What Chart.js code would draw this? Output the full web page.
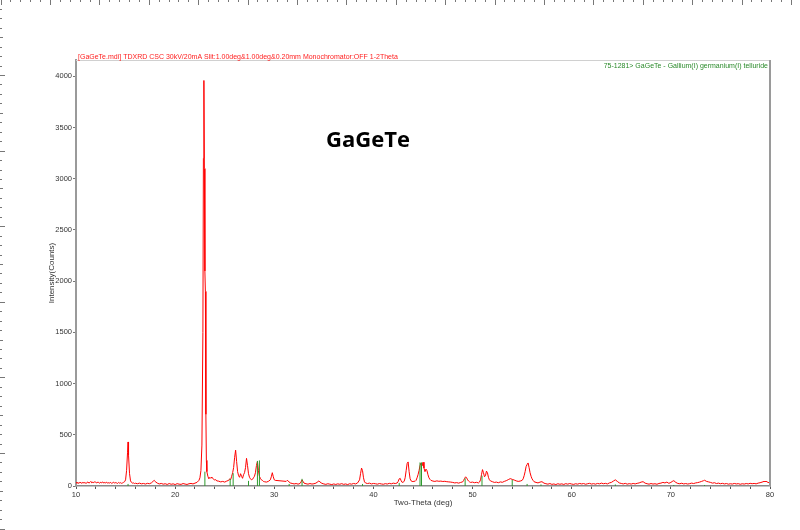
<!DOCTYPE html>
<html>
<head>
<meta charset="utf-8">
<title>GaGeTe XRD</title>
<script src="https://cdn.jsdelivr.net/npm/chart.js@4.4.1/dist/chart.umd.min.js"></script>
<style>
  html, body { margin: 0; padding: 0; background: #fff; }
  #wrap { width: 800px; height: 530px; }
</style>
</head>
<body>
<div id="wrap"><canvas id="xrd" width="800" height="530"></canvas></div>
<script>
// measured scan: [two-theta (deg), intensity (counts)]
const scan = [
  [10.0,35],[10.1,28],[10.2,33],[10.3,25],[10.4,38],[10.5,30],[10.6,27],[10.7,36],[10.8,29],[10.9,34],
  [11.0,26],[11.1,31],[11.2,40],[11.3,28],[11.4,35],[11.5,45],[11.6,30],[11.7,38],[11.8,33],[11.9,42],
  [12.0,36],[12.1,29],[12.2,39],[12.3,34],[12.4,27],[12.5,37],[12.6,31],[12.7,40],[12.8,28],[12.9,35],
  [13.0,30],[13.1,38],[13.2,26],[13.3,33],[13.4,29],[13.5,36],[13.6,24],[13.7,32],[13.8,38],[13.9,27],
  [14.0,34],[14.1,30],[14.2,25],[14.3,35],[14.4,28],[14.5,32],[14.6,26],[14.7,30],[14.8,36],[14.9,42],
  [15.0,60],[15.1,150],[15.2,330],[15.25,430],[15.3,300],[15.4,120],[15.5,50],[15.6,35],[15.7,28],[15.8,30],
  [15.9,24],[16.0,27],[16.2,22],[16.4,28],[16.6,21],[16.8,25],[17.0,19],[17.2,26],[17.4,22],[17.6,30],
  [17.8,48],[17.9,55],[18.0,42],[18.2,28],[18.4,20],[18.6,25],[18.8,18],[19.0,22],[19.2,15],[19.4,24],
  [19.6,17],[19.8,21],[20.0,14],[20.2,23],[20.4,18],[20.6,16],[20.8,24],[21.0,19],[21.2,15],[21.4,22],
  [21.6,25],[21.8,20],[22.0,28],[22.2,35],[22.4,55],[22.5,80],[22.6,150],[22.7,400],[22.8,1500],[22.85,3200],
  [22.9,3960],[22.95,3100],[23.0,2100],[23.05,1900],[23.1,700],[23.15,250],[23.2,140],
  [23.3,95],[23.4,70],[23.5,85],[23.6,75],[23.7,88],[23.8,72],[23.9,65],[24.0,58],[24.1,62],[24.2,50],
  [24.4,47],[24.6,40],[24.8,45],[25.0,38],[25.2,48],[25.4,55],[25.5,70],[25.6,62],[25.7,95],[25.8,130],
  [25.9,180],[26.0,280],[26.1,350],[26.2,240],[26.3,140],[26.4,100],[26.5,85],[26.6,120],[26.7,95],[26.8,75],
  [26.9,110],[27.0,130],[27.1,180],[27.2,270],[27.3,200],[27.4,120],[27.5,85],[27.6,70],[27.7,60],[27.8,65],
  [27.9,80],[28.0,95],[28.1,130],[28.2,200],[28.3,240],[28.4,150],[28.5,95],[28.6,75],[28.7,60],[28.8,55],
  [28.9,45],[29.0,42],[29.2,38],[29.4,45],[29.6,60],[29.7,90],[29.8,130],[29.9,90],[30.0,60],[30.1,55],
  [31.2,45],[31.3,55],[31.4,50],[31.5,38],[31.6,30],[31.8,25],[32.0,20],[32.2,24],[32.4,18],[32.6,25],
  [32.7,40],[32.8,60],[32.9,45],[33.0,28],[33.2,22],[33.4,18],[33.6,24],[33.8,19],[34.0,22],[34.2,28],
  [34.4,42],[34.5,50],[34.6,40],[34.8,26],[35.0,20],[35.2,16],[35.4,22],[35.6,18],[35.8,14],[36.0,20],
  [36.2,15],[36.4,21],[36.6,17],[36.8,23],[37.0,16],[37.2,20],[37.4,14],[37.6,22],[37.8,18],[38.0,25],
  [38.2,20],[38.4,30],[38.6,60],[38.7,120],[38.8,175],[38.9,150],[39.0,80],[39.1,40],[39.2,30],[39.4,24],
  [39.6,28],[39.8,20],[40.0,25],[40.2,22],[40.4,18],[40.6,24],[40.8,20],[41.0,17],[41.2,23],[41.4,19],
  [41.6,26],[41.8,21],[42.0,28],[42.2,24],[42.4,30],[42.5,45],[42.6,70],[42.7,75],[42.8,50],[42.9,35],
  [43.0,38],[43.1,45],[43.2,80],[43.3,150],[43.4,220],[43.5,235],[43.6,140],[43.7,70],[43.8,50],[43.9,45],
  [44.0,42],[44.1,48],[44.2,45],[44.3,55],[44.4,80],[44.5,110],[44.6,150],[44.7,200],[44.8,225],[44.9,195],
  [45.0,232],[45.1,175],[45.2,140],[45.3,165],[45.4,150],[45.5,110],[45.6,80],[45.7,65],[45.8,55],[46.0,48],
  [46.2,45],[46.4,50],[46.6,46],[46.8,48],[47.0,44],[47.2,46],[47.4,42],[47.6,40],[47.8,38],[48.0,35],
  [48.2,30],[48.4,33],[48.6,28],[48.8,35],[49.0,40],[49.1,55],[49.2,75],[49.3,90],[49.4,80],[49.5,60],
  [49.6,48],[49.7,40],[49.8,35],[50.0,38],[50.2,32],[50.4,36],[50.6,30],[50.7,38],[50.8,60],[50.9,110],
  [51.0,160],[51.1,130],[51.2,90],[51.3,100],[51.4,145],[51.5,130],[51.6,85],[51.7,60],[51.8,50],[52.0,42],
  [52.2,35],[52.4,38],[52.6,32],[52.8,40],[53.0,36],[53.2,45],[53.4,52],[53.6,62],[53.8,72],[54.0,65],
  [54.2,58],[54.4,50],[54.6,45],[54.8,48],[55.0,55],[55.1,70],[55.2,100],[55.3,140],[55.4,190],[55.5,210],
  [55.6,225],[55.7,180],[55.8,130],[55.9,95],[56.0,70],[56.1,55],[56.2,42],[56.4,35],[56.6,30],[56.8,38],
  [57.0,42],[57.2,28],[57.4,22],[57.6,18],[57.8,24],[58.0,16],[58.2,20],[58.4,14],[58.6,22],[58.8,17],
  [59.0,21],[59.2,15],[59.4,23],[59.6,18],[59.8,24],[60.0,19],[60.2,16],[60.4,22],[60.6,18],[60.8,25],
  [61.0,20],[61.2,24],[61.4,17],[61.6,22],[61.8,26],[62.0,19],[62.2,23],[62.4,18],[62.6,25],[62.8,21],
  [63.0,28],[63.2,22],[63.4,26],[63.6,20],[63.8,30],[64.0,35],[64.2,48],[64.4,60],[64.6,45],[64.8,30],
  [65.0,25],[65.2,20],[65.4,26],[65.6,18],[65.8,23],[66.0,19],[66.2,25],[66.4,20],[66.6,26],[66.8,30],
  [67.0,38],[67.2,42],[67.4,28],[67.6,22],[67.8,18],[68.0,24],[68.2,19],[68.4,22],[68.6,17],[68.8,25],
  [69.0,28],[69.2,35],[69.4,30],[69.6,38],[69.8,26],[70.0,35],[70.2,48],[70.3,52],[70.5,35],[70.7,25],
  [70.9,22],[71.1,27],[71.3,20],[71.5,24],[71.7,19],[71.9,23],[72.1,28],[72.3,24],[72.5,30],[72.7,33],
  [72.9,38],[73.1,45],[73.3,52],[73.4,56],[73.6,45],[73.8,40],[74.0,35],[74.2,28],[74.4,32],[74.6,24],
  [74.8,28],[75.0,22],[75.2,26],[75.4,20],[75.6,24],[75.8,18],[76.0,22],[76.2,19],[76.4,25],[76.6,20],
  [76.8,23],[77.0,17],[77.2,22],[77.4,19],[77.6,24],[77.8,20],[78.0,26],[78.2,22],[78.4,25],[78.6,21],
  [78.8,28],[79.0,32],[79.2,38],[79.4,45],[79.5,42],[79.6,46],[79.8,35],[80.0,30]
];

// reference card 75-1281 stick pattern: [two-theta, counts]
const cardSticks = [
  [15.25,20],[23.0,140],[25.55,70],[25.85,125],[27.4,50],[28.3,245],[28.5,250],[31.5,20],
  [32.8,70],[38.9,20],[42.6,30],[44.7,230],[44.85,230],[49.25,75],[50.95,100],[54.0,60],
  [55.5,20],[56.9,15],[64.4,15],[70.3,10],[73.4,10]
];

const xTicks = [10,12,14,16,18,20,22,24,26,28,30,32,34,36,38,40,42,44,46,48,50,52,54,56,58,60,62,64,66,68,70,72,74,76,78,80];
const xLabels = [10,20,30,40,50,60,70,80];
const yTicks = [0,500,1000,1500,2000,2500,3000,3500,4000];

const headerText = "[GaGeTe.mdi] TDXRD CSC 30kV/20mA Slit:1.00deg&1.00deg&0.20mm Monochromator:OFF 1-2Theta";
const cardText = "75-1281> GaGeTe - Gallium(I) germanium(I) telluride";
const sampleName = "GaGeTe";

const scanPoints = scan.map(p => ({ x: p[0], y: p[1] }));
// each stick goes 0 -> height, then a gap
const stickPoints = [];
cardSticks.forEach(s => {
  stickPoints.push({ x: s[0], y: 0 }, { x: s[0], y: s[1] }, { x: s[0], y: null });
});

const FONT = "'Liberation Sans', Arial, sans-serif";

// frame, ruler marks and the texts around the plot
const decor = {
  id: "decor",
  afterDraw(chart) {
    const { ctx, chartArea: a } = chart;
    ctx.save();
    ctx.strokeStyle = "#d0d0d0";
    ctx.lineWidth = 1;
    ctx.beginPath();
    ctx.moveTo(a.left, a.top + 0.5);
    ctx.lineTo(a.right, a.top + 0.5);
    ctx.stroke();
    ctx.strokeStyle = "#9a9a9a";
    ctx.lineWidth = 2;
    ctx.beginPath();
    ctx.moveTo(a.right, a.top);
    ctx.lineTo(a.right, a.bottom);
    ctx.stroke();

    // ruler marks along the window edges
    ctx.strokeStyle = "#777";
    ctx.lineWidth = 1;
    ctx.beginPath();
    for (let i = 0; i * 9.88 < 800; i++) {
      const x = Math.round(0.6 + i * 9.88) + 0.5;
      ctx.moveTo(x, 0);
      ctx.lineTo(x, i % 5 === 0 ? 5 : 2);
    }
    for (let i = 0; i * 9.45 < 530; i++) {
      const y = Math.round(-0.6 + i * 9.45) + 0.5;
      ctx.moveTo(0, y);
      ctx.lineTo(i % 8 === 0 ? 5 : (i % 4 === 0 ? 3 : 2), y);
    }
    ctx.stroke();

    ctx.textBaseline = "middle";
    ctx.font = "7px " + FONT;
    ctx.fillStyle = "#ff2020";
    ctx.textAlign = "left";
    ctx.fillText(headerText, a.left + 2, a.top - 3);
    ctx.fillStyle = "#2a8a2a";
    ctx.textAlign = "right";
    ctx.fillText(cardText, a.right - 2, a.top + 6);

    ctx.fillStyle = "#000";
    ctx.textAlign = "center";
    ctx.font = "bold 22px 'Open Sans', " + FONT;
    ctx.fillText(sampleName, 368, 141);
    ctx.restore();
  }
};

new Chart(document.getElementById("xrd"), {
  type: "line",
  data: {
    datasets: [
      {
        label: "scan",
        data: scanPoints,
        borderColor: "#ff0000",
        borderWidth: 1,
        pointRadius: 0,
        tension: 0,
        order: 2
      },
      {
        label: "75-1281",
        data: stickPoints,
        borderColor: "#2e9a2e",
        borderWidth: 1,
        pointRadius: 0,
        spanGaps: false,
        order: 1
      }
    ]
  },
  options: {
    responsive: false,
    animation: false,
    layout: { padding: { left: 0, top: 60, right: 30, bottom: 0 } },
    plugins: { legend: { display: false }, tooltip: { enabled: false } },
    scales: {
      x: {
        type: "linear",
        min: 10,
        max: 80,
        afterBuildTicks: s => { s.ticks = xTicks.map(v => ({ value: v })); },
        afterFit: s => { s.height = 44; },
        ticks: {
          autoSkip: false,
          maxRotation: 0,
          padding: 1,
          color: "#333",
          font: { family: FONT, size: 7.5 },
          callback: v => (xLabels.includes(v) ? String(v) : "")
        },
        grid: { drawOnChartArea: false, tickLength: 3, tickColor: "#555" },
        border: { color: "#8a8a8a", width: 1.5 },
        title: {
          display: true,
          text: "Two-Theta (deg)",
          color: "#333",
          font: { family: FONT, size: 8 },
          padding: { top: 0, bottom: 22 }
        }
      },
      y: {
        type: "linear",
        min: 0,
        max: 4160,
        afterBuildTicks: s => { s.ticks = yTicks.map(v => ({ value: v })); },
        afterFit: s => { s.width = 76; },
        ticks: {
          padding: 1,
          color: "#333",
          font: { family: FONT, size: 7.5 },
          callback: v => String(v)
        },
        grid: { drawOnChartArea: false, tickLength: 3, tickColor: "#777" },
        border: { color: "#9a9a9a", width: 2 },
        title: {
          display: true,
          text: "Intensity(Counts)",
          color: "#333",
          font: { family: FONT, size: 8 },
          padding: { top: 47, bottom: 0 }
        }
      }
    }
  },
  plugins: [decor]
});
</script>
</body>
</html>
